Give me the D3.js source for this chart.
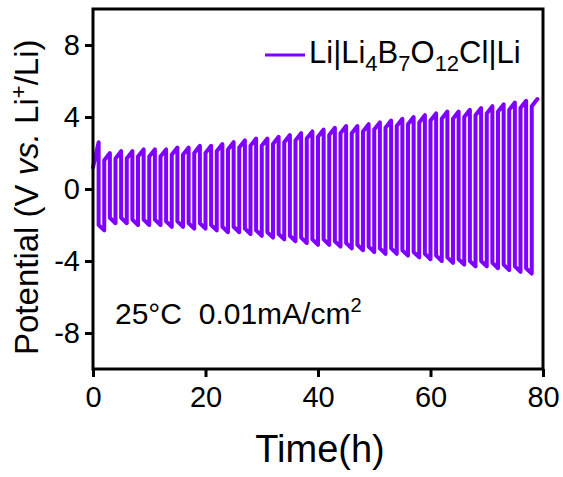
<!DOCTYPE html>
<html>
<head>
<meta charset="utf-8">
<script src="https://cdn.jsdelivr.net/npm/d3@7"></script>
<style>
  body { margin: 0; background: #fff; }
  text { font-family: "Liberation Sans", Arial, sans-serif; fill: #000; }
</style>
</head>
<body>
<div id="chart"></div>
<script>
// cycle start times (h): +current half then -current half, 1 h each
var cycleStart = [0, 2, 4, 6, 8, 10, 12, 14, 16, 18, 20, 22, 24, 26, 28, 30, 32, 34, 36, 38,
                  40, 42, 44, 46, 48, 50, 52, 54, 56, 58, 60, 62, 64, 66, 68, 70, 72, 74, 76, 78];
// potential at start / end of each positive half (V)
var posStart = [1.2, 1.6, 1.7, 1.7, 1.8, 1.8, 1.8, 1.9, 1.9, 2.0, 2.0, 2.1, 2.2, 2.3, 2.4, 2.4, 2.5, 2.6, 2.7, 2.8,
                2.9, 3.0, 3.1, 3.1, 3.2, 3.3, 3.4, 3.5, 3.6, 3.7, 3.8, 3.9, 3.9, 4.0, 4.1, 4.2, 4.3, 4.4, 4.5, 4.6];
var posPeak = [2.6, 2.0, 2.1, 2.1, 2.2, 2.2, 2.2, 2.3, 2.3, 2.4, 2.4, 2.5, 2.6, 2.7, 2.8, 2.8, 2.9, 3.0, 3.1, 3.2,
               3.3, 3.4, 3.5, 3.5, 3.6, 3.7, 3.8, 3.9, 4.0, 4.1, 4.2, 4.3, 4.3, 4.4, 4.5, 4.6, 4.7, 4.8, 4.9, 5.0];
// potential at start / end of each negative half (V)
var negStart = [-2.0, -1.6, -1.6, -1.7, -1.7, -1.7, -1.8, -1.8, -1.9, -1.9, -2.0, -2.1, -2.1, -2.2, -2.3, -2.4, -2.5, -2.6, -2.7, -2.8,
                -2.8, -2.9, -3.0, -3.1, -3.2, -3.3, -3.3, -3.4, -3.5, -3.6, -3.7, -3.8, -3.9, -4.0, -4.0, -4.1, -4.2, -4.3, -4.4];
var negMin = [-2.3, -1.9, -1.9, -2.0, -2.0, -2.0, -2.1, -2.1, -2.2, -2.2, -2.3, -2.4, -2.4, -2.5, -2.6, -2.7, -2.8, -2.9, -3.0, -3.1,
              -3.1, -3.2, -3.3, -3.4, -3.5, -3.6, -3.6, -3.7, -3.8, -3.9, -4.0, -4.1, -4.2, -4.3, -4.3, -4.4, -4.5, -4.6, -4.7];
var xTicks = [0, 20, 40, 60, 80],
    yTicks = [-8, -4, 0, 4, 8];
var lineColor = "#7f00ff";

var w = 563, h = 477;
var svg = d3.select("#chart").append("svg")
    .attr("width", w)
    .attr("height", h);

var margin = {top: 9, right: 20, bottom: 108, left: 93},
    width = 543 - margin.left,
    height = 369 - margin.top;

var x = d3.scaleLinear().domain([0, 80]).range([0, width]),
    y = d3.scaleLinear().domain([-10, 10]).range([height, 0]);

var g = svg.append("g")
    .attr("transform", "translate(" + margin.left + "," + margin.top + ")");

// build the galvanostatic trace
var pts = [];
cycleStart.forEach(function(t, i) {
  if (i === 0) pts.push([t, posStart[0]]);
  else pts.push([t, negMin[i - 1]], [t, posStart[i]]);
  pts.push([t + 1, posPeak[i]]);
  if (i < negMin.length) pts.push([t + 1, negStart[i]], [t + 2, negMin[i]]);
});

var line = d3.line()
    .x(function(d) { return x(d[0]); })
    .y(function(d) { return y(d[1]); });

g.append("path")
    .datum(pts)
    .attr("fill", "none")
    .attr("stroke", lineColor)
    .attr("stroke-width", 4)
    .attr("stroke-linejoin", "round")
    .attr("stroke-linecap", "round")
    .attr("d", line);

// axes
var xAxis = g.append("g")
    .attr("transform", "translate(0," + height + ")")
    .call(d3.axisBottom(x).tickValues(xTicks).tickSize(8).tickPadding(9).tickSizeOuter(0));
var yAxis = g.append("g")
    .call(d3.axisLeft(y).tickValues(yTicks).tickSize(8).tickPadding(5).tickSizeOuter(0));
[xAxis, yAxis].forEach(function(a) {
  a.select(".domain").remove();
  a.selectAll("line").attr("stroke", "#000").attr("stroke-width", 3);
  a.selectAll("text").attr("font-size", 29).attr("font-family", null);
});
yAxis.selectAll("text").text(function(d) { return d < 0 ? "-" + Math.abs(d) : d; });

// frame
g.append("rect")
    .attr("width", width)
    .attr("height", height)
    .attr("fill", "none")
    .attr("stroke", "#000")
    .attr("stroke-width", 3);

// axis titles
svg.append("text")
    .attr("x", 320)
    .attr("y", 462)
    .attr("text-anchor", "middle")
    .style("font-size", "38px")
    .text("Time(h)");

var yl = svg.append("text")
    .attr("transform", "translate(38,355) rotate(-90)")
    .style("font-size", "33px");
yl.append("tspan").text("Potential (V ");
yl.append("tspan").style("font-style", "italic").text("vs.");
yl.append("tspan").text(" Li");
yl.append("tspan").attr("dy", -12).style("font-size", "22px").text("+");
yl.append("tspan").attr("dy", 12).text("/Li)");

// legend
var leg = svg.append("g");
leg.append("line")
    .attr("x1", 265).attr("x2", 305)
    .attr("y1", 55).attr("y2", 55)
    .attr("stroke", lineColor)
    .attr("stroke-width", 3);
var lt = leg.append("text")
    .attr("x", 309)
    .attr("y", 63)
    .style("font-size", "31px");
[["Li|Li", 0], ["4", 1], ["B", 0], ["7", 1], ["O", 0], ["12", 1], ["Cl|Li", 0]].forEach(function(p, i, arr) {
  var prev = i > 0 ? arr[i - 1][1] : 0;
  var dy = (p[1] - prev) * 8;
  lt.append("tspan")
    .attr("dy", dy)
    .style("font-size", p[1] ? "22px" : null)
    .text(p[0]);
});

// condition note
var note = svg.append("text")
    .attr("x", 115)
    .attr("y", 324)
    .style("font-size", "30px")
    .style("white-space", "pre");
note.append("tspan").text("25\u00B0C  0.01mA/cm");
note.append("tspan").attr("dy", -12).style("font-size", "20px").text("2");
</script>
</body>
</html>
